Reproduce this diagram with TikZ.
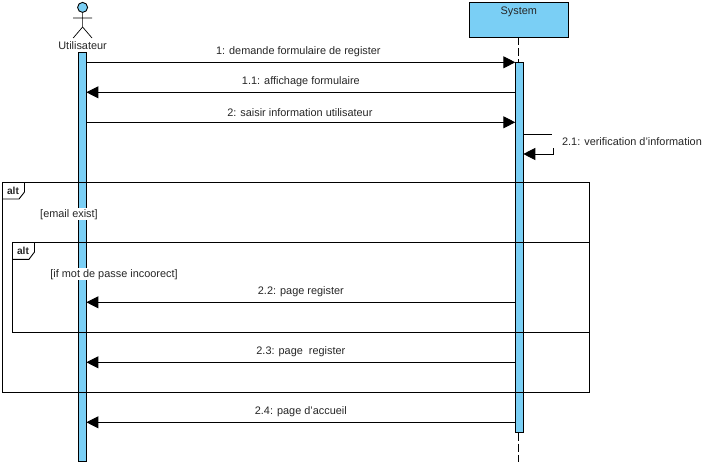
\documentclass[tikz,border=0pt]{standalone}
\usepackage{fontspec}
\setmainfont{Liberation Sans}
\usetikzlibrary{arrows.meta,positioning}
\definecolor{lifeblue}{HTML}{7ACFF5}

\begin{document}
\begin{tikzpicture}[x=1pt,y=-1pt,line width=0.9pt,
                every node/.style={font=\fontsize{10.9}{12}\selectfont,text=black!85},
                msg/.style={-{Triangle[length=12pt,width=12pt]},shorten >=0pt},
                bar/.style={draw,fill=lifeblue,minimum width=8pt,inner sep=0pt},
                sysbox/.style={draw,fill=lifeblue,minimum width=99pt,minimum height=34.5pt,inner sep=0pt},
                guard/.style={fill=white,inner sep=1pt},
                tag/.style={inner sep=0pt,font=\fontsize{10.2}{12}\selectfont\bfseries}]
        \useasboundingbox (0,0) rectangle (716,466);

        \node[sysbox]       (System)   at (518.8,19.8) {};
        \node[anchor=base]  (SysName)  at (518.8,14) {System};
        \node[bar,minimum height=370pt] (SysBar)  at (519.3,247.3) {};
        \node[bar,minimum height=409.5pt] (UserBar) at (82.4,256.8) {};

        \coordinate (SysEnd) at (518.5,462);
        \draw[dashed,dash pattern=on 8pt off 3pt] (518.5,37) -- (518.5,62);
        \draw[dashed,dash pattern=on 8pt off 3pt] (518.5,432.5) -- (SysEnd);

        % actor
        \node[draw,circle,fill=lifeblue,minimum size=10pt,inner sep=0pt] (Head) at (82.6,7.4) {};
        \coordinate (Hip)  at (82.6,27);
        \coordinate (ArmL) at (73.2,18);
        \coordinate (ArmR) at (92,18);
        \coordinate (LegL) at (73.2,38);
        \coordinate (LegR) at (92,38);
        \draw[line width=0.7pt] (Head) -- (Hip) (ArmL) -- (ArmR) (LegL) -- (Hip) -- (LegR);
        \node[anchor=base] (UserName) at (82.6,49) {Utilisateur};

        % frames
        \node[draw,minimum width=587pt,minimum height=210pt,inner sep=0pt] (Outer) at (296,287.3) {};
        \node[draw,minimum width=577pt,minimum height=90pt,inner sep=0pt] (Inner) at (301,287.3) {};
        \draw (24.5,182.3) -- (24.5,192) -- (19,199) -- (2.5,199);
        \draw (34.5,242.3) -- (34.5,252) -- (29,259.3) -- (12.5,259.3);
        \node[tag] (OuterTag) at (13,190.7) {alt};
        \node[tag] (InnerTag) at (23,250.7) {alt};
        \node[guard,anchor=base] (GuardA) at (69,217) {[email exist]};
        \node[guard,anchor=base] (GuardB) at (114,277) {[if mot de passe incoorect]};

        % message ends
        \coordinate (U1) at (86.4,62.3);   \coordinate (S1) at (515.3,62.3);
        \coordinate (U2) at (86.4,92.3);   \coordinate (S2) at (515.3,92.3);
        \coordinate (U3) at (86.4,122.3);  \coordinate (S3) at (515.3,122.3);
        \coordinate (U4) at (86.4,302.3);  \coordinate (S4) at (515.3,302.3);
        \coordinate (U5) at (86.4,362.3);  \coordinate (S5) at (515.3,362.3);
        \coordinate (U6) at (86.4,422.3);  \coordinate (S6) at (515.3,422.3);
        \coordinate (SelfA) at (523.3,134.3);
        \coordinate (SelfB) at (553.5,134.3);
        \coordinate (SelfC) at (553.5,154);
        \coordinate (SelfD) at (523.3,154);

        \draw (U1) edge [msg] node [above=0pt,yshift=2pt,xshift=-2.5pt] {1: demande formulaire de register} (S1);
        \draw (S2) edge [msg] node [above=0pt,yshift=2pt] {1.1: affichage formulaire} (U2);
        \draw (U3) edge [msg] node [above=0pt,yshift=2pt,xshift=-1pt] {2: saisir information utilisateur} (S3);
        \draw (S4) edge [msg] node [above=0pt,yshift=2pt] {2.2: page register} (U4);
        \draw (S5) edge [msg] node [above=0pt,yshift=2pt] {2.3: page\ \ register} (U5);
        \draw (S6) edge [msg] node [above=0pt,yshift=2pt] {2.4: page d'accueil} (U6);

        \draw[msg] (SelfA) -- (SelfB) -- (SelfC) -- (SelfD);
        \node[fill=white,inner sep=0pt,minimum height=13.5pt,minimum width=154pt] (SelfLabel) at (629,141) {};
        \node (SelfText) at (632,142) {2.1: verification d'information};

\end{tikzpicture}
\end{document}
